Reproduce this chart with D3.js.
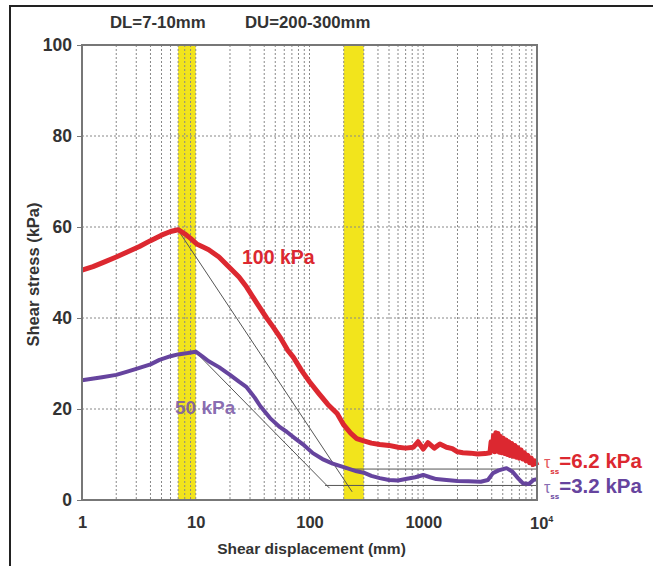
<!DOCTYPE html>
<html>
<head>
<meta charset="utf-8">
<script src="https://cdn.jsdelivr.net/npm/d3@7"></script>
<style>
  body { margin: 0; background: #fff; }
  svg text { font-family: "Liberation Sans", Arial, sans-serif; font-weight: bold; }
</style>
</head>
<body>
<div id="chart"></div>
<script>
// shear displacement (mm) and shear stress (kPa)
const redX = [1, 1.25, 1.6, 2, 2.5, 3.2, 4, 5, 6, 7, 8, 9, 10.3, 11.6, 13, 16, 20, 24, 28, 35, 42, 48, 56, 64, 72, 85, 100, 120, 145, 175, 200, 230, 260, 300, 350, 415, 500, 600, 700, 820, 900, 1000, 1100, 1250, 1400, 1600, 1800, 2000, 2230, 2600, 3000, 3500,
  3860, 3950, 4050, 4150, 4250, 4350, 4450, 4550, 4650, 4750, 4900, 5050, 5200, 5350, 5500, 5650, 5800, 6000, 6200, 6400, 6600, 6800, 7000, 7250, 7500, 7750, 8000, 8300, 8600, 8900, 9200, 9600, 10000];
const redY = [50.5, 51.3, 52.4, 53.4, 54.5, 55.7, 57, 58.2, 59, 59.4, 58.5, 57.5, 56.2, 55.6, 55, 53.4, 51, 49, 46.8, 43, 40, 38, 35.5, 33, 31.4, 28.5, 26, 23.5, 21, 19, 16.5, 14.7, 13.5, 13, 12.5, 12.2, 12, 11.6, 11.4, 11.6, 12.8, 11.2, 12.6, 11.4, 12.3, 11.6, 11.3, 10.6, 10.4, 10.3, 10.1, 10.2,
  10.4, 12.8, 11, 14.2, 10.6, 14.8, 10.8, 14.6, 10.5, 14, 10.4, 13.6, 10.2, 13.2, 10, 12.8, 9.8, 12.4, 9.6, 12, 9.4, 11.5, 9.2, 11, 9, 10.4, 8.6, 9.8, 8.2, 9.2, 7.8, 8.6, 7.6];

const purpleX = [1, 1.5, 2, 2.5, 3, 4, 4.8, 6, 7, 8.5, 10, 11.5, 13, 16, 20, 24, 28, 33, 37, 45, 55, 63, 75, 90, 107, 130, 160, 213, 260, 300, 350, 415, 500, 600, 700, 850, 1000, 1150, 1300, 1600, 2000, 2500, 3200, 3700, 4100, 4600, 5400, 6100, 6800, 7500, 8500, 9300, 10000];
const purpleY = [26.3, 27, 27.5, 28.2, 28.8, 29.8, 30.8, 31.6, 32, 32.3, 32.6, 31.5, 30.5, 29.2, 27.5, 26, 24.8, 22.5, 20.6, 18, 16, 15, 13.5, 12, 10.3, 9, 8, 7, 6.3, 6, 5.3, 4.8, 4.4, 4.3, 4.6, 5, 5.5, 5, 4.6, 4.4, 4.2, 4.1, 4, 4.4, 5.9, 6.5, 7, 6.2, 4.8, 3.7, 3.5, 4.4, 4.6];

// fitted lines: softening slopes and residual stress levels
const redSlope = [[7, 59.3], [237, 1.8]];
const purpleSlope = [[10, 32.5], [150, 2.6]];
const redResidual = [[205, 6.8], [10000, 6.8]];
const purpleResidual = [[137, 3.2], [10000, 3.2]];

// shaded displacement windows DL and DU
const bands = [[7, 10], [200, 300]];
const bandLabels = ["DL=7-10mm", "DU=200-300mm"];

const xTicks = [1, 10, 100, 1000, 10000];
const yTicks = [0, 20, 40, 60, 80, 100];

(function () {
  const svg_width = 653, svg_height = 566;
  const margin = { top: 45, left: 82 };
  const width = 455, height = 455;
  const red = "#dc2830", purple = "#66449e";

  const x = d3.scaleLog().domain([1, 10000]).range([0, width]);
  const y = d3.scaleLinear().domain([0, 100]).range([height, 0]);

  const root = d3.select("#chart").append("svg")
    .attr("width", svg_width)
    .attr("height", svg_height);

  // outer border (left and top only)
  root.append("path")
    .attr("d", "M10,566 V6 H653")
    .attr("fill", "none")
    .attr("stroke", "#222")
    .attr("stroke-width", 2);

  const svg = root.append("g")
    .attr("transform", "translate(" + margin.left + "," + margin.top + ")");

  // yellow bands
  svg.selectAll(".band")
    .data(bands)
    .enter().append("rect")
    .attr("x", d => x(d[0]))
    .attr("y", 0)
    .attr("width", d => x(d[1]) - x(d[0]))
    .attr("height", height)
    .attr("fill", "#f2e41c");

  // band labels above the plot
  svg.selectAll(".bandlabel")
    .data(bandLabels)
    .enter().append("text")
    .attr("x", (d, i) => i === 0 ? 28 : 163)
    .attr("y", -17)
    .attr("font-size", 16.8)
    .attr("fill", "#333")
    .text(d => d);

  // grid
  const vGrid = x.ticks().filter(t => t > 1 && t < 10000);
  svg.selectAll(".vgrid")
    .data(vGrid)
    .enter().append("line")
    .attr("x1", d => x(d)).attr("x2", d => x(d))
    .attr("y1", 0).attr("y2", height)
    .attr("stroke", "#888")
    .attr("stroke-width", 1)
    .attr("stroke-dasharray", "2,2");

  svg.selectAll(".hgrid")
    .data(yTicks.filter(t => t > 0 && t < 100))
    .enter().append("line")
    .attr("x1", 0).attr("x2", width)
    .attr("y1", d => y(d)).attr("y2", d => y(d))
    .attr("stroke", "#888")
    .attr("stroke-width", 1)
    .attr("stroke-dasharray", "2,2");

  // fitted lines
  const line = d3.line().x(d => x(d[0])).y(d => y(d[1]));
  [redSlope, purpleSlope, redResidual, purpleResidual].forEach(function (seg) {
    svg.append("path")
      .attr("d", line(seg))
      .attr("fill", "none")
      .attr("stroke", "#555")
      .attr("stroke-width", 1);
  });

  // curves
  svg.append("path")
    .datum(purpleX.map((v, i) => [v, purpleY[i]]))
    .attr("d", line)
    .attr("fill", "none")
    .attr("stroke", purple)
    .attr("stroke-width", 4)
    .attr("stroke-linejoin", "round");

  svg.append("path")
    .datum(redX.map((v, i) => [v, redY[i]]))
    .attr("d", line)
    .attr("fill", "none")
    .attr("stroke", red)
    .attr("stroke-width", 5)
    .attr("stroke-linejoin", "round");

  // frame
  svg.append("rect")
    .attr("width", width)
    .attr("height", height)
    .attr("fill", "none")
    .attr("stroke", "#777")
    .attr("stroke-width", 2);

  // y axis
  const yAxis = svg.append("g")
    .call(d3.axisLeft(y).tickValues(yTicks).tickSize(5).tickPadding(5));
  yAxis.select(".domain").remove();
  yAxis.selectAll("line").attr("stroke", "#777");
  yAxis.selectAll("text")
    .attr("font-size", 17.5)
    .attr("fill", "#333")
    .style("font-family", "'Liberation Sans', Arial, sans-serif")
    .style("font-weight", "bold");

  // x axis
  const xAxis = svg.append("g")
    .attr("transform", "translate(0," + height + ")")
    .call(d3.axisBottom(x).tickValues(xTicks).tickSize(0).tickPadding(16)
      .tickFormat(d => d === 10000 ? "" : d3.format("d")(d)));
  xAxis.select(".domain").remove();
  xAxis.selectAll("text")
    .attr("font-size", 16.5)
    .attr("fill", "#333")
    .style("font-family", "'Liberation Sans', Arial, sans-serif")
    .style("font-weight", "bold");

  // 10^4 label
  const last = svg.append("text")
    .attr("x", x(10000) - 7)
    .attr("y", height + 29)
    .attr("font-size", 16.5)
    .attr("fill", "#333");
  last.append("tspan").text("10");
  last.append("tspan").attr("dy", -7).attr("font-size", 9).text("4");

  // axis titles
  svg.append("text")
    .attr("x", width / 2 + 2)
    .attr("y", height + 54)
    .attr("text-anchor", "middle")
    .attr("font-size", 15.5)
    .attr("fill", "#333")
    .text("Shear displacement (mm)");

  svg.append("text")
    .attr("transform", "translate(" + (-43) + "," + (y(50) + 2) + ") rotate(-90)")
    .attr("text-anchor", "middle")
    .attr("font-size", 16.5)
    .attr("fill", "#333")
    .text("Shear stress (kPa)");

  // series labels
  svg.append("text")
    .attr("x", 160).attr("y", 219)
    .attr("font-size", 19.5)
    .attr("fill", red)
    .text("100 kPa");

  svg.append("text")
    .attr("x", 93).attr("y", 369)
    .attr("font-size", 19)
    .attr("fill", "#7a5aa8")
    .attr("fill-opacity", 0.9)
    .text("50 kPa");

  // residual stress labels
  const resid = [
    { label: "=6.2 kPa", color: red, yv: 423 },
    { label: "=3.2 kPa", color: purple, yv: 448 }
  ];
  resid.forEach(function (r) {
    const t = svg.append("text")
      .attr("x", width + 7)
      .attr("y", r.yv)
      .attr("font-size", 20.5)
      .attr("fill", r.color);
    t.append("tspan").attr("font-weight", "normal").attr("font-size", 16).attr("fill-opacity", 0.8).text("\u03C4");
    t.append("tspan").attr("dy", 6).attr("font-size", 8).text("ss");
    t.append("tspan").attr("dy", -6).text(r.label);
  });
})();
</script>
</body>
</html>
